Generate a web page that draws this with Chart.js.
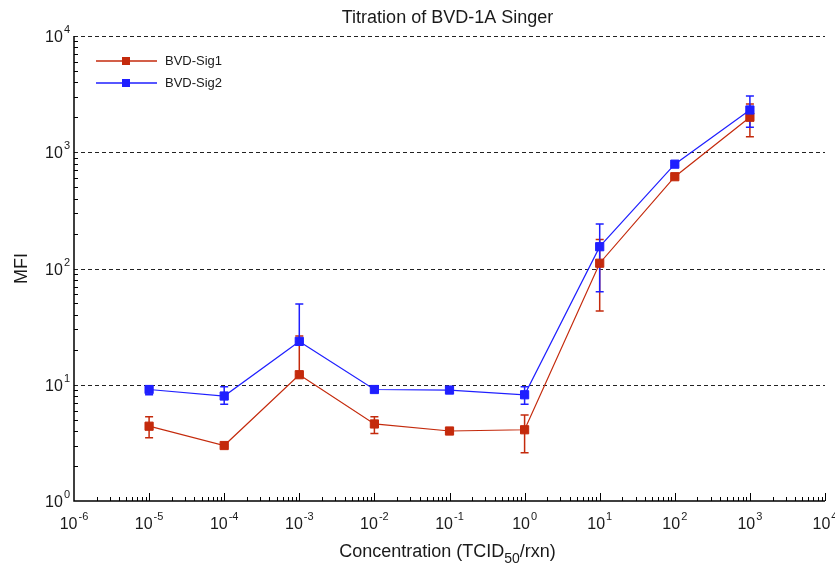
<!DOCTYPE html>
<html>
<head>
<meta charset="utf-8">
<title>Titration of BVD-1A Singer</title>
<script src="https://cdn.jsdelivr.net/npm/chart.js@4.4.1/dist/chart.umd.min.js"></script>
<style>
  html, body { margin: 0; padding: 0; background: #fff; }
  #wrap { width: 835px; height: 565px; }
</style>
</head>
<body>
<div id="wrap"><canvas id="titrationChart"></canvas></div>
<script>
// Concentration (TCID50/rxn) of each dilution
const concentrations = [1e-5, 1e-4, 1e-3, 1e-2, 1e-1, 1e0, 1e1, 1e2, 1e3];

// BVD-Sig1: MFI and error bar ends
const sig1Mfi  = [4.4, 3.0, 12.2, 4.6, 4.0, 4.1, 111, 616, 2000];
const sig1Low  = [3.5, 2.95, 12.2, 3.8, 3.9, 2.6, 43, 600, 1360];
const sig1High = [5.3, 3.05, 26.3, 5.3, 4.1, 5.5, 178, 632, 2600];

// BVD-Sig2: MFI and error bar ends
const sig2Mfi  = [9.1, 8.0, 23.6, 9.1, 9.0, 8.2, 154, 790, 2310];
const sig2Low  = [8.2, 6.8, 23.6, 8.6, 8.5, 6.8, 63, 765, 1640];
const sig2High = [9.8, 9.6, 49.5, 9.7, 9.5, 9.6, 241, 815, 3050];

// axis decades (exponents of 10) used for ticks and labels
const xDecades = [-6, -5, -4, -3, -2, -1, 0, 1, 2, 3, 4];
const yDecades = [0, 1, 2, 3, 4];

const seriesLabels = ["BVD-Sig1", "BVD-Sig2"];
const titleText = "Titration of BVD-1A Singer";
const yTitle = "MFI";

const RED = "#c42a0c";
const BLUE = "#1f1fff";
const INK = "#1a1a1a";
const FONT = '"Liberation Sans", Arial, sans-serif';

function toPoints(ys) {
  return concentrations.map((c, i) => ({ x: c, y: ys[i] }));
}

// draws "10" with a raised exponent; align is "center" or "right"
function drawPow(ctx, x, y, exp, align) {
  const base = "10";
  const sup = String(exp);
  ctx.font = "16px " + FONT;
  const wb = ctx.measureText(base).width;
  ctx.font = "11px " + FONT;
  const ws = ctx.measureText(sup).width;
  const total = wb + 1 + ws;
  let start = align === "right" ? x - total : x - total / 2;
  ctx.textAlign = "left";
  ctx.textBaseline = "alphabetic";
  ctx.font = "16px " + FONT;
  ctx.fillText(base, start, y);
  ctx.font = "11px " + FONT;
  ctx.fillText(sup, start + wb + 1, y - 9);
}

const errorBars = {
  id: "errorBars",
  beforeDatasetsDraw(chart) {
    const { ctx, chartArea: a, scales: { x, y } } = chart;
    ctx.save();
    // dashed grid at the decades
    ctx.strokeStyle = "#222";
    ctx.lineWidth = 1;
    ctx.setLineDash([4, 3]);
    yDecades.slice(1).forEach(d => {
      const py = Math.round(y.getPixelForValue(Math.pow(10, d))) + 0.5;
      ctx.beginPath();
      ctx.moveTo(a.left, py);
      ctx.lineTo(a.right, py);
      ctx.stroke();
    });
    ctx.setLineDash([]);

    // error bars
    chart.data.datasets.forEach(ds => {
      ctx.strokeStyle = ds.borderColor;
      ctx.lineWidth = 1.5;
      concentrations.forEach((c, i) => {
        const px = x.getPixelForValue(c);
        const lo = y.getPixelForValue(ds.errLow[i]);
        const hi = y.getPixelForValue(ds.errHigh[i]);
        ctx.beginPath();
        ctx.moveTo(px, lo);
        ctx.lineTo(px, hi);
        ctx.moveTo(px - 4, hi);
        ctx.lineTo(px + 4, hi);
        ctx.moveTo(px - 4, lo);
        ctx.lineTo(px + 4, lo);
        ctx.stroke();
      });
    });
    ctx.restore();
  },
  afterDraw(chart) {
    const { ctx, chartArea: a, scales: { x, y } } = chart;
    ctx.save();
    ctx.strokeStyle = "#000";
    ctx.lineWidth = 1.5;

    // axis lines
    ctx.beginPath();
    ctx.moveTo(a.left, a.top);
    ctx.lineTo(a.left, a.bottom);
    ctx.lineTo(a.right, a.bottom);
    ctx.stroke();

    // tick marks, pointing inward
    ctx.lineWidth = 1;
    ctx.beginPath();
    xDecades.forEach(d => {
      const px = Math.round(x.getPixelForValue(Math.pow(10, d))) + 0.5;
      if (d > xDecades[0]) {
        ctx.moveTo(px, a.bottom);
        ctx.lineTo(px, a.bottom - 8);
      }
      if (d < xDecades[xDecades.length - 1]) {
        for (let m = 2; m <= 9; m++) {
          const mx = Math.round(x.getPixelForValue(m * Math.pow(10, d))) + 0.5;
          ctx.moveTo(mx, a.bottom);
          ctx.lineTo(mx, a.bottom - 4);
        }
      }
    });
    yDecades.forEach(d => {
      if (d < yDecades[yDecades.length - 1]) {
        for (let m = 2; m <= 9; m++) {
          const my = Math.round(y.getPixelForValue(m * Math.pow(10, d))) + 0.5;
          ctx.moveTo(a.left, my);
          ctx.lineTo(a.left + 4, my);
        }
      }
    });
    ctx.stroke();

    // tick labels
    ctx.fillStyle = INK;
    xDecades.forEach(d => {
      drawPow(ctx, x.getPixelForValue(Math.pow(10, d)), a.bottom + 28, d, "center");
    });
    yDecades.forEach(d => {
      drawPow(ctx, a.left - 4, y.getPixelForValue(Math.pow(10, d)) + 6, d, "right");
    });

    // title
    const cx = (a.left + a.right) / 2;
    ctx.font = "18px " + FONT;
    ctx.textAlign = "center";
    ctx.fillText(titleText, cx - 2, 23);

    // x axis title with subscript
    const p1 = "Concentration (TCID", p2 = "50", p3 = "/rxn)";
    ctx.font = "18px " + FONT;
    const w1 = ctx.measureText(p1).width, w3 = ctx.measureText(p3).width;
    ctx.font = "14px " + FONT;
    const w2 = ctx.measureText(p2).width;
    let sx = cx - 2 - (w1 + w2 + w3) / 2;
    ctx.textAlign = "left";
    ctx.font = "18px " + FONT;
    ctx.fillText(p1, sx, 557);
    ctx.font = "14px " + FONT;
    ctx.fillText(p2, sx + w1, 563);
    ctx.font = "18px " + FONT;
    ctx.fillText(p3, sx + w1 + w2, 557);

    // y axis title
    ctx.save();
    ctx.translate(27, (a.top + a.bottom) / 2);
    ctx.rotate(-Math.PI / 2);
    ctx.textAlign = "center";
    ctx.font = "18px " + FONT;
    ctx.fillText(yTitle, 0, 0);
    ctx.restore();

    // legend
    chart.data.datasets.forEach((ds, i) => {
      const ly = a.top + 25 + i * 22;
      ctx.strokeStyle = ds.borderColor;
      ctx.lineWidth = 1.5;
      ctx.beginPath();
      ctx.moveTo(a.left + 22, ly);
      ctx.lineTo(a.left + 83, ly);
      ctx.stroke();
      ctx.fillStyle = ds.pointBackgroundColor;
      ctx.fillRect(a.left + 52 - 4, ly - 4, 8, 8);
      ctx.fillStyle = INK;
      ctx.font = "13px " + FONT;
      ctx.textAlign = "left";
      ctx.textBaseline = "middle";
      ctx.fillText(ds.label, a.left + 91, ly);
      ctx.textBaseline = "alphabetic";
    });
    ctx.restore();
  }
};

new Chart(document.getElementById("titrationChart"), {
  type: "line",
  data: {
    datasets: [
      {
        label: seriesLabels[0],
        data: toPoints(sig1Mfi),
        errLow: sig1Low,
        errHigh: sig1High,
        borderColor: RED,
        borderWidth: 1.2,
        pointStyle: "rect",
        pointRadius: 5.8,
        pointBackgroundColor: RED,
        pointBorderColor: RED,
        pointBorderWidth: 1,
        order: 2
      },
      {
        label: seriesLabels[1],
        data: toPoints(sig2Mfi),
        errLow: sig2Low,
        errHigh: sig2High,
        borderColor: BLUE,
        borderWidth: 1.2,
        pointStyle: "rect",
        pointRadius: 5.8,
        pointBackgroundColor: BLUE,
        pointBorderColor: BLUE,
        pointBorderWidth: 1,
        order: 1
      }
    ]
  },
  options: {
    responsive: true,
    maintainAspectRatio: false,
    animation: false,
    layout: { padding: { left: 74, right: 10, top: 36, bottom: 64 } },
    scales: {
      x: { type: "logarithmic", min: 1e-6, max: 1e4, display: false },
      y: { type: "logarithmic", min: 1, max: 1e4, display: false }
    },
    plugins: {
      legend: { display: false },
      title: { display: false },
      tooltip: { enabled: false }
    }
  },
  plugins: [errorBars]
});
</script>
</body>
</html>
